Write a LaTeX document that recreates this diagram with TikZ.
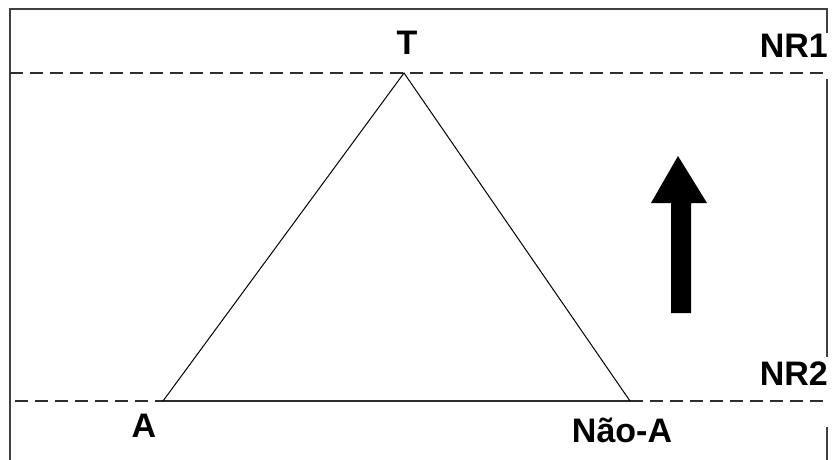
\documentclass[tikz,border=0pt]{standalone}
\usepackage{fontspec}
\setmainfont{Liberation Sans}
\definecolor{framegray}{RGB}{64,64,64}
\definecolor{levelgray}{RGB}{45,45,45}
\usetikzlibrary{positioning}

\begin{document}
\begin{tikzpicture}[x=1pt, y=-1pt,
  lbl/.style={
    font=\fontsize{34}{35}\selectfont\bfseries,
    inner sep=0pt, anchor=base
  },
  level/.style={draw=levelgray, line width=2pt, dash pattern=on 13pt off 7pt},
  side/.style={draw=black, line width=1pt},
  border/.style={draw=framegray, line width=2.2pt}
]
\useasboundingbox (0,0) rectangle (832,460);

% frame, open at the bottom and broken behind the level labels
\draw[border] (10,460) -- (10,9) -- (827,9) -- (827,33);
\draw[border] (827,79) -- (827,357);
\draw[border] (827,427) -- (827,460);

% triangle corners
\coordinate (apex) at (404,73);
\coordinate (lv) at (163,401);
\coordinate (rv) at (630,401);

% levels
\coordinate (nr1w) at (10,73);
\coordinate (nr1e) at (827,73);
\coordinate (nr2w) at (15,401);
\coordinate (nr2e) at (827,401);
\draw[level] (nr1w) -- (nr1e);
\draw[level] (nr2w) -- (lv);
\draw[level] (rv) -- (nr2e);
\draw[level, solid] (lv) -- (rv);

\draw[side] (lv) -- (apex) -- (rv);

\node[lbl] (t) at (407,55) {T};
\node[lbl, anchor=base east] (nr1) at (828,58) {NR1};
\node[lbl, anchor=base east] (nr2) at (828,385) {NR2};
\node[lbl] (a) at (144,437) {A};
\node[lbl] (nota) at (622,442) {Não-A};

% upward arrow
\fill[black] (678,156) -- (707,203) -- (691,203) -- (691,313)
  -- (671,313) -- (671,203) -- (651,203) -- cycle;
\end{tikzpicture}
\end{document}
